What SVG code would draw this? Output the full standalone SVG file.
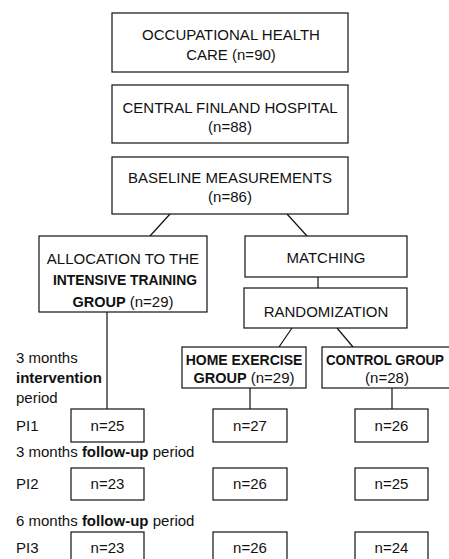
<svg xmlns="http://www.w3.org/2000/svg" width="449" height="559" viewBox="0 0 449 559">
<style>
.b{fill:#fff;stroke:#111;stroke-width:1.2}
.c{stroke:#111;stroke-width:1.2;fill:none}
text{font-family:"Liberation Sans",Arial,sans-serif;font-size:15px;fill:#111}
.m{text-anchor:middle}
.bd{font-weight:bold}
.bc{font-weight:bold;font-size:14px}
.g{font-weight:bold;font-size:14.5px}
</style>
<rect width="449" height="559" fill="#fff"/>
<g id="connectors">
<line class="c" x1="170" y1="214" x2="150" y2="236"/>
<line class="c" x1="287" y1="214" x2="307" y2="236"/>
<line class="c" x1="318" y1="277" x2="318" y2="288"/>
<line class="c" x1="292" y1="328" x2="279" y2="347"/>
<line class="c" x1="337" y1="328" x2="353" y2="347"/>
<line class="c" x1="107" y1="312" x2="107" y2="409"/>
<line class="c" x1="250" y1="388" x2="250" y2="409"/>
<line class="c" x1="392" y1="388" x2="392" y2="409"/>
</g>
<g id="n1"><rect class="b" x="112" y="13" width="236" height="59"/>
<text class="m" x="231" y="40">OCCUPATIONAL HEALTH</text><text class="m" x="231" y="60">CARE (n=90)</text></g>
<g id="n2"><rect class="b" x="112" y="85" width="236" height="58"/>
<text class="m" x="230" y="113">CENTRAL FINLAND HOSPITAL</text><text class="m" x="230" y="132">(n=88)</text></g>
<g id="n3"><rect class="b" x="112" y="157" width="236" height="57"/>
<text class="m" x="230" y="183">BASELINE MEASUREMENTS</text><text class="m" x="230" y="202">(n=86)</text></g>
<g id="n4"><rect class="b" x="39" y="236" width="168" height="76"/>
<text class="m" x="123" y="264">ALLOCATION TO THE</text><text class="m bc" x="125" y="285" textLength="144" lengthAdjust="spacingAndGlyphs">INTENSIVE TRAINING</text><text class="m" x="123" y="307"><tspan class="g">GROUP</tspan> (n=29)</text></g>
<g id="n5"><rect class="b" x="245" y="236" width="162" height="41"/>
<text class="m" x="326" y="263">MATCHING</text></g>
<g id="n6"><rect class="b" x="244" y="288" width="163" height="40"/>
<text class="m" x="326" y="317">RANDOMIZATION</text></g>
<g id="n7"><rect class="b" x="182" y="347" width="124" height="41"/>
<text class="m bc" x="244" y="365">HOME EXERCISE</text><text class="m" x="244" y="383"><tspan class="g">GROUP</tspan> (n=29)</text></g>
<g id="n8"><rect class="b" x="322" y="347" width="131" height="41"/>
<text class="bc" x="326" y="365" textLength="118" lengthAdjust="spacingAndGlyphs">CONTROL GROUP</text><text class="m" x="387" y="383">(n=28)</text></g>
<g id="labels">
<text x="16" y="363">3 months</text>
<text class="bd" x="16" y="383">intervention</text>
<text x="16" y="403">period</text>
<text x="16" y="431">PI1</text>
<text x="16" y="457">3 months <tspan class="bd">follow-up</tspan> period</text>
<text x="16" y="489">PI2</text>
<text x="16" y="526">6 months <tspan class="bd">follow-up</tspan> period</text>
<text x="16" y="553">PI3</text>
</g>
<g id="p11"><rect class="b" x="71" y="409" width="73" height="33"/><text class="m" x="107.5" y="431">n=25</text></g>
<g id="p12"><rect class="b" x="213" y="409" width="74" height="33"/><text class="m" x="250" y="431">n=27</text></g>
<g id="p13"><rect class="b" x="355" y="409" width="73" height="33"/><text class="m" x="391.5" y="431">n=26</text></g>
<g id="p21"><rect class="b" x="71" y="468" width="73" height="32"/><text class="m" x="107.5" y="489">n=23</text></g>
<g id="p22"><rect class="b" x="213" y="468" width="74" height="32"/><text class="m" x="250" y="489">n=26</text></g>
<g id="p23"><rect class="b" x="355" y="468" width="73" height="32"/><text class="m" x="391.5" y="489">n=25</text></g>
<g id="p31"><rect class="b" x="71" y="532" width="73" height="33"/><text class="m" x="107.5" y="553">n=23</text></g>
<g id="p32"><rect class="b" x="213" y="532" width="74" height="33"/><text class="m" x="250" y="553">n=26</text></g>
<g id="p33"><rect class="b" x="355" y="532" width="73" height="33"/><text class="m" x="391.5" y="553">n=24</text></g>
</svg>
